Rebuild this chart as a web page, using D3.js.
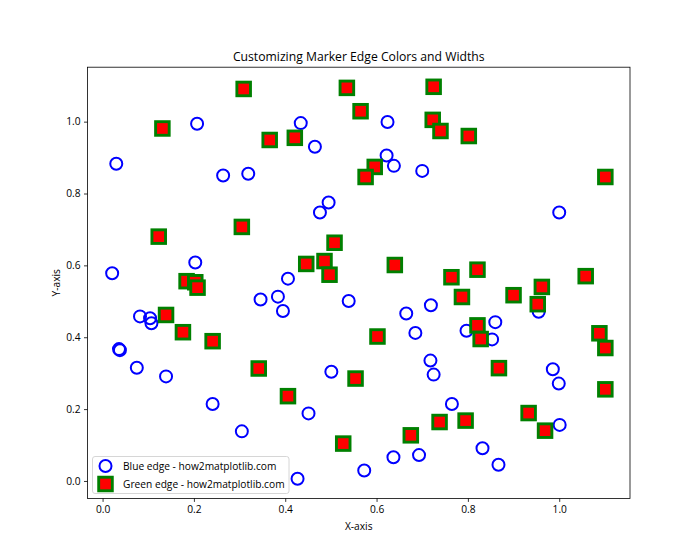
<!DOCTYPE html>
<html>
<head>
<meta charset="utf-8">
<script src="https://cdn.jsdelivr.net/npm/d3@7"></script>
<style>
  html, body { margin: 0; padding: 0; background: #fff; }
  svg { display: block; }
  text { font-family: "Open Sans", "Noto Sans", "DejaVu Sans", sans-serif; fill: #000; }
</style>
</head>
<body>
<svg id="chart" width="700" height="560"></svg>
<script>
// ---- data ----
const blueX = [0.030,0.207,0.434,0.465,0.264,0.319,0.495,0.476,0.203,0.021,
               0.406,0.624,0.622,0.638,0.700,1.000,0.346,0.384,0.395,0.539,
               0.082,0.104,0.107,0.036,0.038,0.075,0.139,0.241,0.501,0.451,
               0.305,0.427,0.573,0.665,0.719,0.685,0.797,0.860,0.853,0.955,
               0.718,0.725,0.986,0.999,0.765,1.001,0.832,0.867,0.637,0.693];
const blueY = [0.883,0.994,0.996,0.930,0.850,0.855,0.775,0.747,0.608,0.578,
               0.563,0.999,0.906,0.877,0.863,0.747,0.505,0.513,0.473,0.501,
               0.458,0.453,0.439,0.367,0.364,0.315,0.291,0.214,0.304,0.188,
               0.138,0.006,0.029,0.466,0.489,0.412,0.418,0.442,0.394,0.471,
               0.335,0.296,0.311,0.271,0.214,0.156,0.091,0.045,0.066,0.072];
const greenX = [0.309,0.535,0.565,0.131,0.366,0.421,0.596,0.576,0.123,0.305,
                0.508,0.446,0.486,0.497,0.184,0.203,0.208,0.139,0.176,0.241,
                0.342,0.406,0.527,0.554,0.725,0.723,0.740,0.802,1.101,0.640,
                0.764,0.821,1.058,0.787,0.900,0.962,0.953,0.602,0.821,0.828,
                1.088,1.101,0.868,1.101,0.933,0.969,0.738,0.795,0.675];
const greenY = [1.091,1.094,1.029,0.981,0.949,0.955,0.874,0.846,0.680,0.707,
                0.663,0.604,0.612,0.574,0.556,0.553,0.538,0.462,0.414,0.389,
                0.313,0.236,0.104,0.285,1.097,1.005,0.974,0.960,0.846,0.601,
                0.567,0.588,0.570,0.512,0.517,0.540,0.492,0.402,0.433,0.395,
                0.411,0.370,0.314,0.255,0.189,0.140,0.164,0.168,0.127];
const xTicks = [0.0, 0.2, 0.4, 0.6, 0.8, 1.0];
const yTicks = [0.0, 0.2, 0.4, 0.6, 0.8, 1.0];
const seriesLabels = ["Blue edge - how2matplotlib.com", "Green edge - how2matplotlib.com"];
const titleText = "Customizing Marker Edge Colors and Widths";

// ---- layout ----
const W = 700, H = 560;
const L = 87.5, R = 630, T = 67.2, B = 498.4;
const svg = d3.select("#chart");

const allX = blueX.concat(greenX), allY = blueY.concat(greenY);
function padded(arr) {
  const [a, b] = d3.extent(arr); const m = (b - a) * 0.05; return [a - m, b + m];
}
const x = d3.scaleLinear().domain(padded(allX)).range([L, R]);
const y = d3.scaleLinear().domain(padded(allY)).range([B, T]);

const fontTick = 10.2;

// clip
svg.append("defs").append("clipPath").attr("id", "clip")
  .append("rect").attr("x", L).attr("y", T).attr("width", R - L).attr("height", B - T);

const plot = svg.append("g").attr("clip-path", "url(#clip)");

const blue = d3.range(blueX.length).map(i => ({x: blueX[i], y: blueY[i]}));
const green = d3.range(greenX.length).map(i => ({x: greenX[i], y: greenY[i]}));

const cr = 6.0, sq = 13.6;
plot.selectAll("circle.b").data(blue).enter().append("circle")
  .attr("cx", d => x(d.x)).attr("cy", d => y(d.y)).attr("r", cr)
  .attr("fill", "none").attr("stroke", "#0000ff").attr("stroke-width", 2);

plot.selectAll("rect.g").data(green).enter().append("rect")
  .attr("x", d => x(d.x) - sq / 2).attr("y", d => y(d.y) - sq / 2)
  .attr("width", sq).attr("height", sq)
  .attr("fill", "#ff0000").attr("stroke", "#008000").attr("stroke-width", 2.9);

// axes
const xAxis = d3.axisBottom(x).tickValues(xTicks).tickFormat(d3.format(".1f")).tickSizeOuter(0).tickSize(3.5).tickPadding(3.5);
const yAxis = d3.axisLeft(y).tickValues(yTicks).tickFormat(d3.format(".1f")).tickSizeOuter(0).tickSize(3.5).tickPadding(3.5);
const gx = svg.append("g").attr("transform", `translate(0,${B})`).call(xAxis);
const gy = svg.append("g").attr("transform", `translate(${L},0)`).call(yAxis);
[gx, gy].forEach(g => {
  g.select(".domain").remove();
  g.selectAll(".tick line").attr("stroke", "#000").attr("stroke-width", 0.8);
  g.selectAll(".tick text").attr("font-size", fontTick).attr("fill", "#000")
    .style("font-family", '"Open Sans", "Noto Sans", sans-serif');
});

// frame
svg.append("rect").attr("x", L).attr("y", T).attr("width", R - L).attr("height", B - T)
  .attr("fill", "none").attr("stroke", "#000").attr("stroke-width", 0.8);

// labels
svg.append("text").attr("x", (L + R) / 2).attr("y", 61).attr("text-anchor", "middle")
  .attr("font-size", 12.2).text(titleText);
svg.append("text").attr("x", (L + R) / 2).attr("y", 529.5).attr("text-anchor", "middle")
  .attr("font-size", fontTick).text("X-axis");
svg.append("text").attr("transform", `translate(60,${(T + B) / 2}) rotate(-90)`)
  .attr("text-anchor", "middle").attr("font-size", fontTick).text("Y-axis");

// legend
const lg = svg.append("g");
lg.append("rect").attr("x", 92.5).attr("y", 456.5).attr("width", 196.5).attr("height", 37)
  .attr("rx", 2.5).attr("fill", "#fff").attr("fill-opacity", 0.8)
  .attr("stroke", "#cccccc").attr("stroke-width", 0.8);
lg.append("circle").attr("cx", 105.5).attr("cy", 466).attr("r", cr)
  .attr("fill", "none").attr("stroke", "#0000ff").attr("stroke-width", 2);
lg.append("rect").attr("x", 105.5 - sq / 2).attr("y", 484 - sq / 2).attr("width", sq).attr("height", sq)
  .attr("fill", "#ff0000").attr("stroke", "#008000").attr("stroke-width", 2.9);
lg.selectAll("text.lab").data(seriesLabels).enter().append("text")
  .attr("x", 123).attr("y", (d, i) => 469.5 + i * 18).attr("font-size", fontTick).text(d => d);
</script>
</body>
</html>
